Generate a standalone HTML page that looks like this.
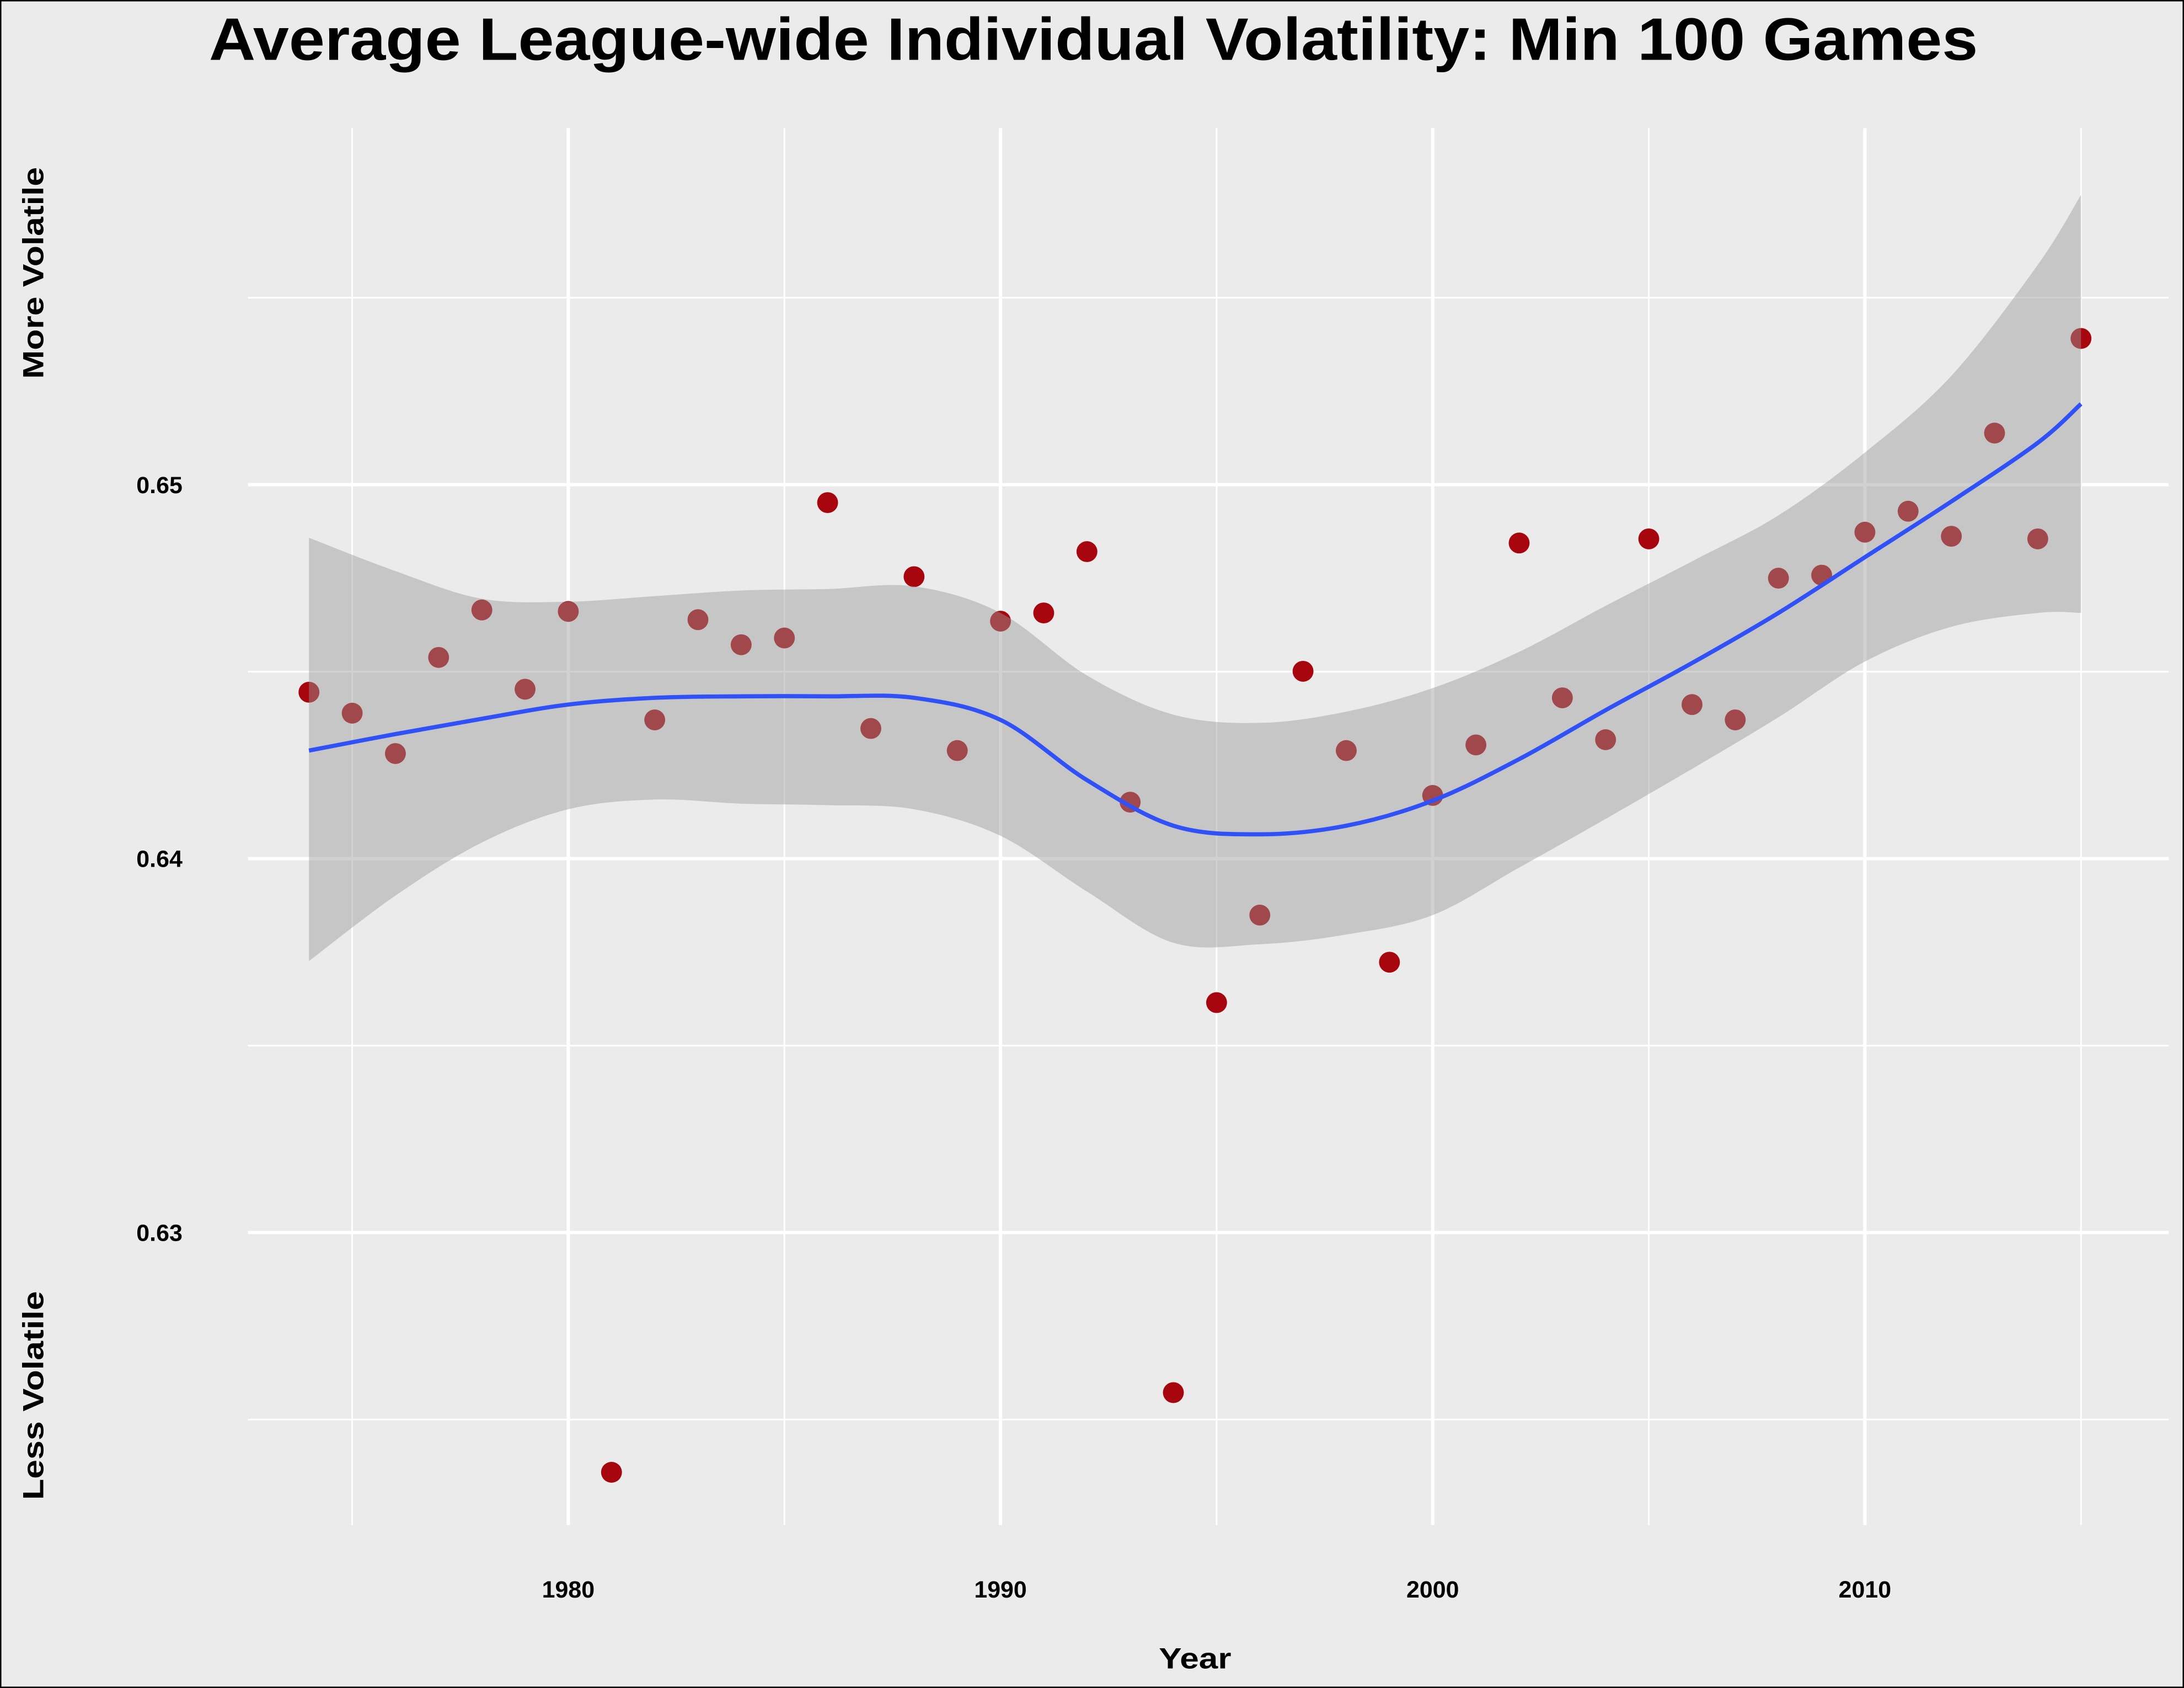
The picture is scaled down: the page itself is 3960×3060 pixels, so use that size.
<!DOCTYPE html>
<html><head><meta charset="utf-8"><style>
html,body{margin:0;padding:0;background:#EBEBEB;}
svg{display:block;}
text{font-family:"Liberation Sans",Arial,sans-serif;font-weight:bold;fill:#000;}
</style></head><body>
<svg id="chart" width="3960" height="3060" viewBox="0 0 1568 1212" preserveAspectRatio="none" xmlns="http://www.w3.org/2000/svg">
<rect x="0.5" y="0.5" width="1567" height="1211" fill="#EBEBEB" stroke="#000" stroke-width="1"/>
<g id="grid"></g>
<g id="points"></g>
<g id="band"></g>
<g id="line"></g>
<g id="axes"></g>
<text x="785" y="43" text-anchor="middle" font-size="43" textLength="1270" lengthAdjust="spacingAndGlyphs">Average League-wide Individual Volatility: Min 100 Games</text>
<text transform="translate(31,196) rotate(-90)" text-anchor="middle" font-size="21" textLength="152" lengthAdjust="spacingAndGlyphs">More Volatile</text>
<text transform="translate(31,1002) rotate(-90)" text-anchor="middle" font-size="21" textLength="150" lengthAdjust="spacingAndGlyphs">Less Volatile</text>
<text x="858" y="1198" text-anchor="middle" font-size="21" textLength="52" lengthAdjust="spacingAndGlyphs">Year</text>
</svg>
<script>
const years = [1974,1975,1976,1977,1978,1979,1980,1981,1982,1983,1984,1985,1986,1987,1988,1989,1990,1991,1992,1993,1994,1995,1996,1997,1998,1999,2000,2001,2002,2003,2004,2005,2006,2007,2008,2009,2010,2011,2012,2013,2014,2015];
const values = [0.64445,0.64389,0.64281,0.64538,0.64665,0.64453,0.64661,0.62359,0.64371,0.64639,0.64572,0.64590,0.64952,0.64348,0.64754,0.64289,0.64635,0.64657,0.64821,0.64151,0.62572,0.63615,0.63849,0.64501,0.64289,0.63723,0.64169,0.64304,0.64844,0.64430,0.64318,0.64855,0.64412,0.64371,0.64750,0.64758,0.64873,0.64929,0.64862,0.65138,0.64855,0.65391];
const fitYears = [1974,1976,1978,1980,1982,1984,1986,1988,1990,1992,1994,1996,1998,2000,2002,2004,2006,2008,2010,2012,2014,2015];
const fitValues = [0.64289,0.64333,0.64374,0.64412,0.64430,0.64434,0.64434,0.64430,0.64371,0.64210,0.64088,0.64065,0.64088,0.64155,0.64266,0.64397,0.64523,0.64657,0.64806,0.64955,0.65112,0.65216];
const fitUpper = [0.64858,0.64769,0.64695,0.64687,0.64702,0.64717,0.64721,0.64728,0.64657,0.64490,0.64385,0.64363,0.64393,0.64456,0.64553,0.64676,0.64795,0.64918,0.65086,0.65291,0.65588,0.65775];
const fitLower = [0.63726,0.63901,0.64043,0.64132,0.64158,0.64147,0.64143,0.64132,0.64061,0.63912,0.63775,0.63771,0.63797,0.63849,0.63976,0.64106,0.64240,0.64378,0.64527,0.64620,0.64657,0.64657];
const xTicks = [1980,1990,2000,2010];
const xMinor = [1975,1985,1995,2005,2015];
const yTicks = [0.63,0.64,0.65];
const yMinor = [0.625,0.635,0.645,0.655];

const NS="http://www.w3.org/2000/svg";
const X0=178,X1=1557,Y0=92,Y1=1095;
function xs(v){return 408+(v-1980)*31.03;}
function ys(v){return 348-(v-0.65)*26850;}
function mk(tag,attrs,parent){const e=document.createElementNS(NS,tag);for(const k in attrs)e.setAttribute(k,attrs[k]);parent.appendChild(e);return e;}
function smooth(p){let d='M'+p[0][0]+','+p[0][1];for(let i=0;i<p.length-1;i++){const a=p[Math.max(0,i-1)],b=p[i],c=p[i+1],e=p[Math.min(p.length-1,i+2)];
d+='C'+(b[0]+(c[0]-a[0])/6)+','+(b[1]+(c[1]-a[1])/6)+' '+(c[0]-(e[0]-b[0])/6)+','+(c[1]-(e[1]-b[1])/6)+' '+c[0]+','+c[1];}return d;}
const grid=document.getElementById('grid'),axes=document.getElementById('axes');
yMinor.forEach(v=>{const l=mk('line',{x1:X0,x2:X1,y1:ys(v),y2:ys(v),stroke:'#fff','stroke-width':1.2},grid);

});
xMinor.forEach(v=>{const l=mk('line',{x1:xs(v),x2:xs(v),y1:Y0,y2:Y1,stroke:'#fff','stroke-width':1.2},grid);

});
yTicks.forEach(v=>{const l=mk('line',{x1:X0,x2:X1,y1:ys(v),y2:ys(v),stroke:'#fff','stroke-width':2.4},grid);


const t=mk('text',{x:131,y:ys(v)+6,'text-anchor':'end','font-size':17},axes);t.textContent=v.toFixed(2);

});
xTicks.forEach(v=>{const l=mk('line',{x1:xs(v),x2:xs(v),y1:Y0,y2:Y1,stroke:'#fff','stroke-width':2.4},grid);


const t=mk('text',{x:xs(v),y:1147,'text-anchor':'middle','font-size':17},axes);t.textContent=v;

});
const pts=document.getElementById('points');
years.forEach((yr,i)=>{const c=mk('circle',{cx:xs(yr),cy:ys(values[i]),r:7.5,fill:'#A8060F'},pts);

});
const up=fitYears.map((yr,i)=>[xs(yr),ys(fitUpper[i])]);
const lo=fitYears.map((yr,i)=>[xs(yr),ys(fitLower[i])]).reverse();
let d=smooth(up)+'L'+smooth(lo).slice(1)+'Z';
const band=mk('path',{d:d,fill:'#999999','fill-opacity':0.45},document.getElementById('band'));


const ln=mk('path',{d:smooth(fitYears.map((yr,i)=>[xs(yr),ys(fitValues[i])])),fill:'none',stroke:'#3050F8','stroke-width':3,'stroke-linejoin':'round'},document.getElementById('line'));


</script>
</body></html>
